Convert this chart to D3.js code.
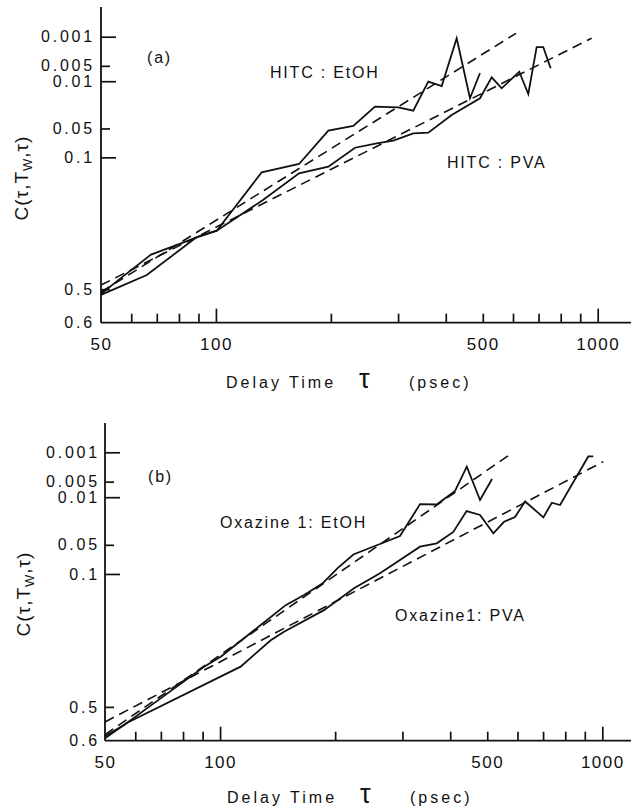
<!DOCTYPE html>
<html lang="en">
<head>
<meta charset="utf-8">
<title>Delay time decay</title>
<script src="https://d3js.org/d3.v7.min.js"></script>
<style>
  body { margin: 0; background: #fff; }
  svg text { font-family: "Liberation Sans", Arial, sans-serif; fill: #111; }
  .curve { fill: none; stroke: #111; stroke-width: 1.8; stroke-linejoin: miter; }
  .fit { fill: none; stroke: #111; stroke-width: 1.6; stroke-dasharray: 10,6; }
  .axis path { display: none; }
  .axis line { stroke: #111; stroke-width: 1.7; }
  .axis text { font-size: 17px; letter-spacing: 1.5px; }
  .ylab text { font-size: 16px; letter-spacing: 2.8px; }
  .note { font-size: 16px; letter-spacing: 1.8px; }
</style>
</head>
<body>
<script>
// tick values
const tauLabels = [50, 100, 500, 1000];
const tauMajor = [100, 1000];
const tauMinor = [60, 70, 80, 90, 200, 300, 400, 500, 600, 700, 800, 900];
const cLabels = [0.001, 0.005, 0.01, 0.05, 0.1, 0.5, 0.6];
const cMajor = [0.001, 0.01, 0.1];
const cMinor = [0.005, 0.05, 0.5];

// (a) HITC, [tau psec, C]
const hitcEtOH = [[50,0.515],[55.5,0.471],[67.6,0.387],[76.6,0.361],[89.1,0.329],[100.5,0.307],
  [131.8,0.134],[165.1,0.1145],[197,0.0531],[229,0.0467],[261,0.0259],[300.4,0.0265],[328.8,0.0296],
  [360,0.0102],[390.3,0.0122],[427.2,0.0011],[462.9,0.0194],[491.7,0.0070]];
const hitcPVA = [[50,0.518],[65.9,0.4545],[89.1,0.328],[100.5,0.307],[132.8,0.210],[165.1,0.1366],
  [197,0.1207],[231.4,0.0810],[263.7,0.0731],[291.5,0.0686],[328.8,0.0569],[360,0.0560],[414.5,0.0338],
  [491.7,0.0194],[527.6,0.00846],[560.4,0.01333],[623.2,0.00659],[657.9,0.01658],[692,0.00186],
  [720,0.00186],[753,0.00563]];
const hitcEtOHFit = [[50,0.509],[611,0.000805]];
const hitcPVAFit = [[50,0.487],[964,0.0011]];

// (b) Oxazine 1
const oxEtOH = [[50,0.587],[56.1,0.555],[69.9,0.473],[90.8,0.369],[100.4,0.336],[127.8,0.234],
  [148.5,0.176],[165.9,0.149],[185.2,0.121],[202.7,0.0887],[223.2,0.0643],[262.1,0.0489],[295.6,0.0390],
  [333.6,0.0132],[368.9,0.0134],[411.9,0.00767],[442,0.00232],[478.8,0.0112],[514.7,0.00439]];
const oxPVA = [[50,0.593],[57,0.549],[113.2,0.369],[135.7,0.282],[147,0.255],[187,0.190],[224.1,0.132],
  [262.1,0.0987],[333.6,0.0526],[368.9,0.0480],[407.6,0.0346],[441.5,0.0172],[478.8,0.0198],
  [518.7,0.0360],[553.3,0.0250],[591.1,0.0213],[628,0.0119],[701.3,0.0215],[737.6,0.0125],
  [775.4,0.0137],[919,0.00129],[947,0.00129]];
const oxEtOHFit = [[50,0.583],[579.5,0.00106]];
const oxPVAFit = [[50,0.546],[1006,0.00175]];

const g = c => Math.log(-Math.log(c));

const svg = d3.select("body").append("svg").attr("width", 631).attr("height", 811);

function panel(p) {
  const x = d3.scaleLog().domain([50, 1000]).range([p.left, p.right]);
  const y = d3.scaleLinear().domain([g(0.6), g(0.001)]).range([p.bottom, p.top]);
  const line = d3.line().x(d => x(d[0])).y(d => y(g(d[1])));
  const s = svg.append("g");

  s.append("line").attr("x1", x(50)).attr("x2", x(1400)).attr("y1", p.bottom).attr("y2", p.bottom)
    .attr("stroke", "#111").attr("stroke-width", 1.8);
  s.append("line").attr("x1", x(50)).attr("x2", x(50)).attr("y1", p.axisTop).attr("y2", p.bottom)
    .attr("stroke", "#111").attr("stroke-width", 1.8);

  s.append("g").attr("class", "axis").attr("transform", `translate(0,${p.bottom})`)
    .call(d3.axisBottom(x).tickValues(tauMinor).tickSize(-9).tickFormat(""));
  s.append("g").attr("class", "axis").attr("transform", `translate(0,${p.bottom})`)
    .call(d3.axisBottom(x).tickValues(tauMajor).tickSize(-14).tickFormat(""));
  s.append("g").attr("class", "axis").attr("transform", `translate(0,${p.bottom})`)
    .call(d3.axisBottom(x).tickValues(tauLabels).tickSize(0).tickPadding(15).tickFormat(d => d));

  s.append("g").attr("class", "axis").attr("transform", `translate(${x(50)},0)`)
    .call(d3.axisRight(y).tickValues(cMajor.map(g)).tickSize(15).tickFormat(""));
  s.append("g").attr("class", "axis").attr("transform", `translate(${x(50)},0)`)
    .call(d3.axisRight(y).tickValues(cMinor.map(g)).tickSize(9).tickFormat(""));
  s.append("g").attr("class", "axis ylab").attr("transform", `translate(${x(50)},0)`)
    .call(d3.axisLeft(y).tickValues(cLabels.map(g)).tickSize(0).tickPadding(p.labelPad)
      .tickFormat((d, i) => cLabels[i]));

  s.selectAll("path.fit").data(p.fits).join("path").attr("class", "fit").attr("d", line);
  s.selectAll("path.curve").data(p.series).join("path").attr("class", "curve").attr("d", line);

  p.notes.forEach(n => s.append("text").attr("class", "note").attr("x", n[0]).attr("y", n[1]).text(n[2]));

  // x axis title
  const t = s.append("text").attr("y", p.titleY).style("letter-spacing", "3px").style("font-size", "16px");
  t.append("tspan").attr("x", p.titleX).text("Delay Time");
  t.append("tspan").attr("x", p.titleX + 133).style("font-size", "27px").style("letter-spacing", "0").text("τ");
  t.append("tspan").attr("x", p.titleX + 183).text("(psec)");

  // y axis title
  const yt = s.append("text").attr("transform", `translate(${p.yTitleX},${p.yTitleY}) rotate(-90)`)
    .attr("text-anchor", "middle").attr("dy", "0.35em").style("font-size", "19px").style("letter-spacing", "1px");
  yt.append("tspan").text("C(τ,T");
  yt.append("tspan").attr("dy", 4).style("font-size", "13px").text("W");
  yt.append("tspan").attr("dy", -4).text(",τ)");
}

panel({
  left: 101, right: 597.7, top: 36.7, bottom: 322.7, axisTop: 7, labelPad: 6,
  series: [hitcEtOH, hitcPVA], fits: [hitcEtOHFit, hitcPVAFit],
  notes: [[147, 63, "(a)"], [270, 78, "HITC : EtOH"], [447, 168, "HITC : PVA"]],
  titleX: 226, titleY: 388, yTitleX: 21, yTitleY: 178
});

panel({
  left: 105, right: 602.3, top: 452.3, bottom: 740.7, axisTop: 423, labelPad: 5,
  series: [oxEtOH, oxPVA], fits: [oxEtOHFit, oxPVAFit],
  notes: [[148, 482, "(b)"], [220, 528, "Oxazine 1: EtOH"], [395, 621, "Oxazine1: PVA"]],
  titleX: 227, titleY: 803, yTitleX: 23, yTitleY: 594
});
</script>
</body>
</html>
